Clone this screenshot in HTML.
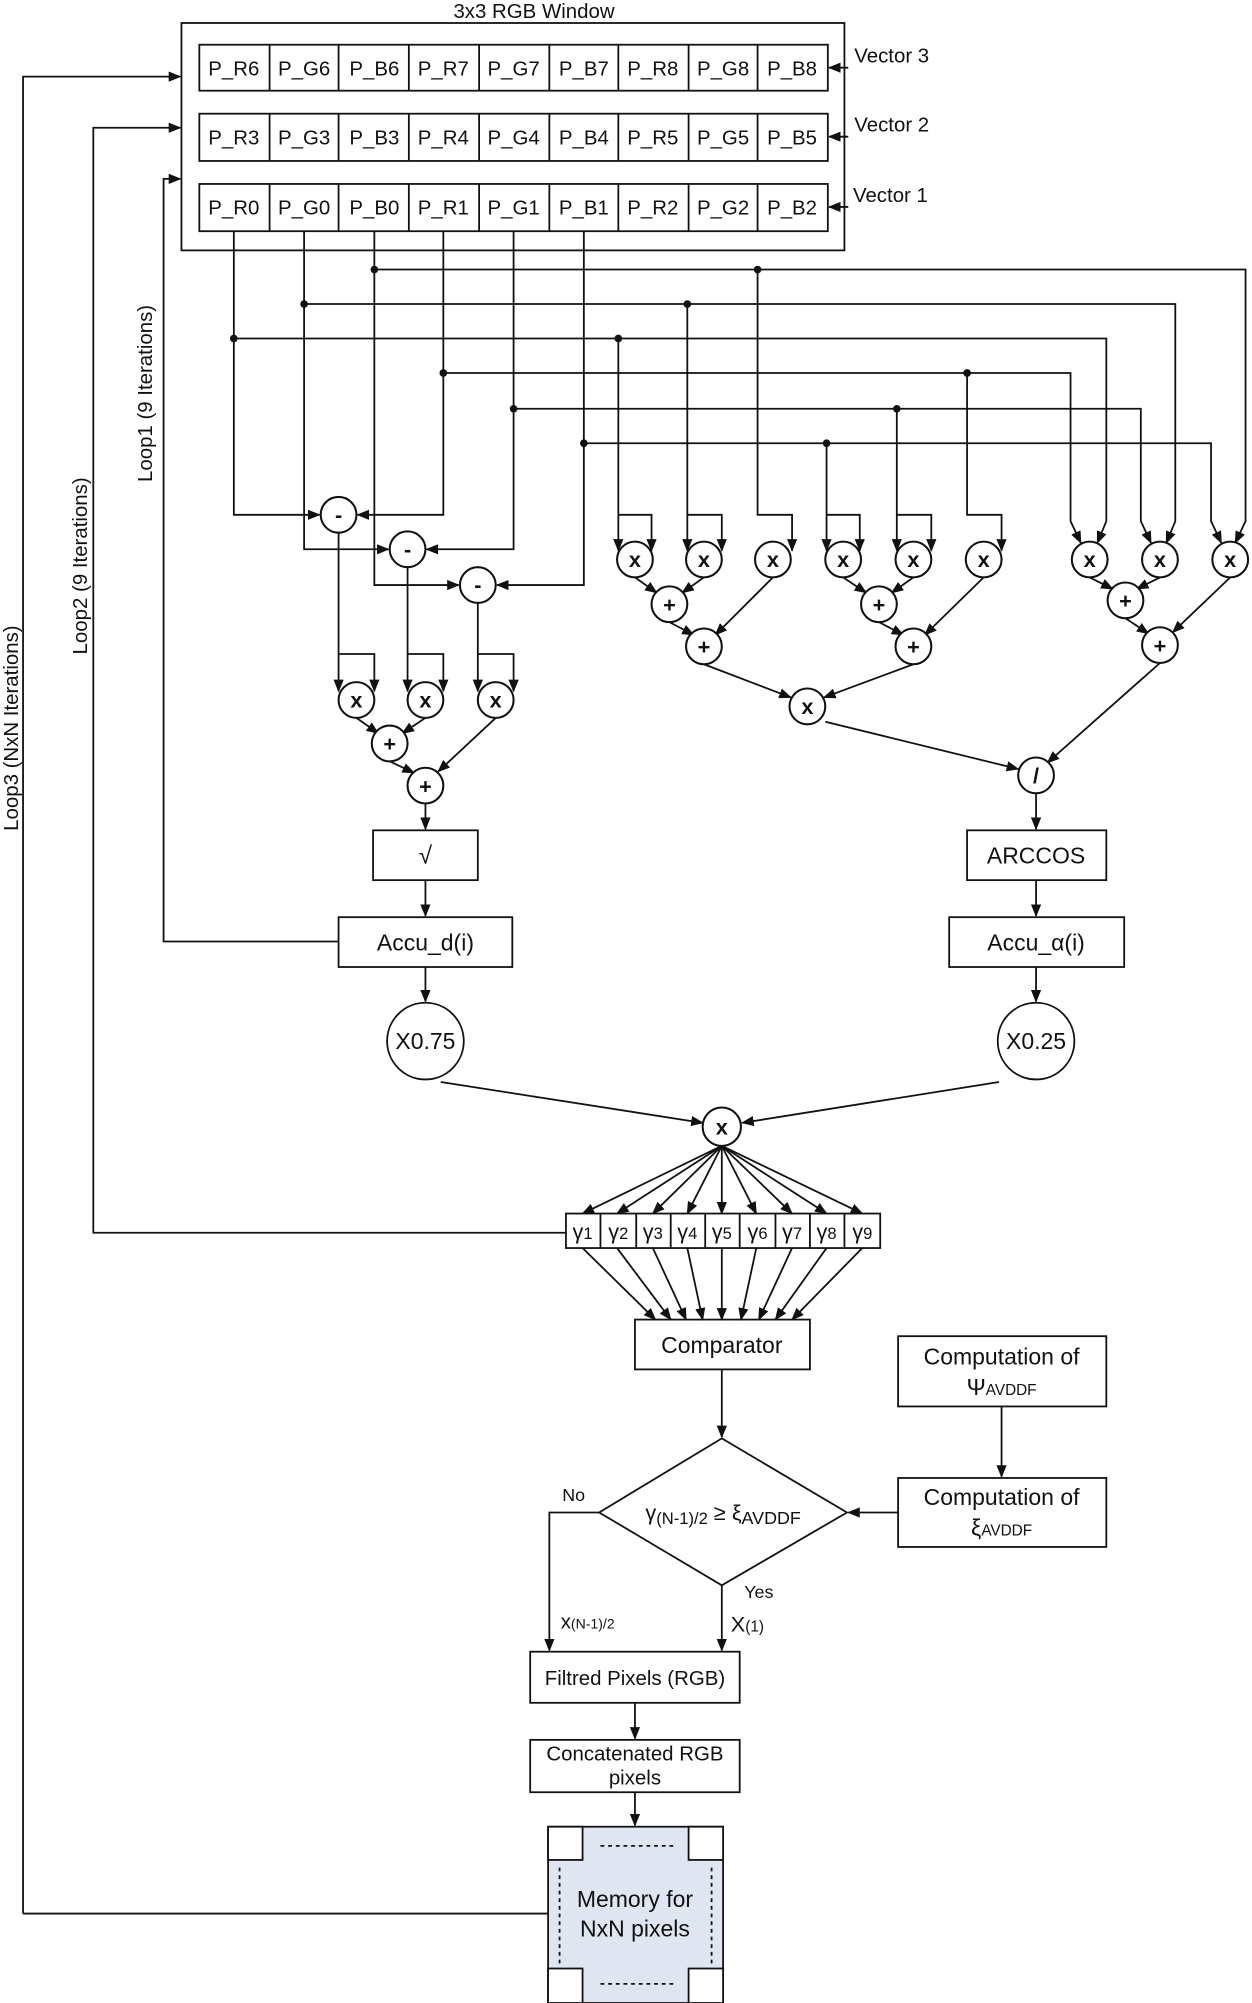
<!DOCTYPE html>
<html><head><meta charset="utf-8"><style>html,body{margin:0;padding:0;background:#fff}svg{display:block}text{font-family:"Liberation Sans",sans-serif;fill:#111}</style></head><body>
<svg width="1252" height="2003" viewBox="0 0 980 1568" xmlns="http://www.w3.org/2000/svg">
<defs><marker id="a" markerWidth="10" markerHeight="8" refX="9" refY="4" orient="auto" markerUnits="userSpaceOnUse"><path d="M0,0L10,4L0,8z" fill="#111"/></marker></defs>
<g stroke="#111" stroke-width="1.4" fill="none">
<rect x="142" y="18" width="519" height="178"/>
<rect x="156" y="35" width="492" height="36"/><rect x="156" y="89" width="492" height="37"/><rect x="156" y="144" width="492" height="37"/>
<path d="M211,35V71M265,35V71M320,35V71M375,35V71M430,35V71M484,35V71M539,35V71M593,35V71M211,89V126M265,89V126M320,89V126M375,89V126M430,89V126M484,89V126M539,89V126M593,89V126M211,144V181M265,144V181M320,144V181M375,144V181M430,144V181M484,144V181M539,144V181M593,144V181"/>
</g>
<g stroke="#111" stroke-width="1.4" fill="none" marker-end="url(#a)">
<path d="M664,53H649"/><path d="M664,107H649"/><path d="M664,162H649"/>
<path d="M18,1498V60H141"/>
<path d="M443,965H73V100H141"/>
<path d="M265,737H128V140H141"/>
<!-- minus inputs -->
<path d="M183,181V403H250"/><path d="M347,181V403H280"/>
<path d="M238,181V430H304"/><path d="M402,181V430H334"/>
<path d="M293,181V458H359"/><path d="M457,181V458H389"/>
<!-- middle mult inputs -->
<path d="M484,265V431"/><path d="M484,403H510V431"/>
<path d="M538,238V431"/><path d="M538,403H565V431"/>
<path d="M593,211V403H620V431"/>
<path d="M647,347V431"/><path d="M647,403H673V431"/>
<path d="M702,320V431"/><path d="M702,403H729V431"/>
<path d="M757,292V403H784V431"/>
<!-- right mult inputs -->
<path d="M293,211H975V408L967,425"/>
<path d="M238,238H920V408L913,425"/>
<path d="M183,265H866V408L859,425"/>
<path d="M347,292H838V408L846,425"/>
<path d="M402,320H893V408L901,425"/>
<path d="M457,347H948V408L956,425"/>
<!-- minus to mult -->
<path d="M265,417V541"/><path d="M265,512H293V541"/>
<path d="M319,444V541"/><path d="M319,512H347V541"/>
<path d="M374,472V541"/><path d="M374,512H402V541"/>
<path d="M279,562L296,574"/><path d="M333,562L315,574"/>
<path d="M305,596L324,605"/><path d="M388,562L343,604"/>
<path d="M333,629V649"/><path d="M333,689V717"/><path d="M333,757V784"/>
<!-- middle adders -->
<path d="M497,452L514,464"/><path d="M551,452L534,464"/>
<path d="M524,487L543,497"/><path d="M605,452L560,497"/>
<path d="M660,452L678,464"/><path d="M715,452L698,464"/>
<path d="M688,487L707,497"/><path d="M770,452L724,497"/>
<path d="M853,452L871,461"/><path d="M908,452L890,461"/>
<path d="M881,484L899,496"/><path d="M963,452L918,495"/>
<path d="M551,520L619,546"/><path d="M715,520L645,546"/>
<path d="M646,565L797,602"/><path d="M908,519L820,597"/>
<path d="M811,621V649"/><path d="M811,689V717"/><path d="M811,757V784"/>
<path d="M345,847L550,879"/><path d="M782,847L581,879"/>
<!-- fan to gammas -->
<path d="M565,897L456,950"/><path d="M565,897L483,950"/><path d="M565,897L511,950"/><path d="M565,897L538,950"/><path d="M565,897V950"/><path d="M565,897L592,950"/><path d="M565,897L620,950"/><path d="M565,897L647,950"/><path d="M565,897L675,950"/>
<path d="M456,977L513,1033"/><path d="M483,977L525,1033"/><path d="M511,977L537,1033"/><path d="M538,977L550,1033"/><path d="M565,977V1033"/><path d="M592,977L580,1033"/><path d="M620,977L594,1033"/><path d="M647,977L607,1033"/><path d="M675,977L620,1033"/>
<path d="M565,1072V1125"/><path d="M784,1101V1156"/><path d="M703,1184H664"/>
<path d="M469,1184H430V1292"/><path d="M565,1241V1292"/>
<path d="M497,1333V1361"/><path d="M497,1403V1429"/>
</g>
<g stroke="#111" stroke-width="1.4" fill="none">
<rect x="443" y="950" width="246" height="27" fill="#fff"/>
<path d="M470,950V977M498,950V977M525,950V977M552,950V977M579,950V977M607,950V977M634,950V977M661,950V977"/>
<rect x="497" y="1033" width="137" height="39"/>
<path d="M565,1126L663,1184L565,1241L469,1184z"/>
<rect x="703" y="1046" width="163" height="55"/><rect x="703" y="1157" width="163" height="54"/>
<rect x="415" y="1293" width="164" height="40"/><rect x="415" y="1362" width="164" height="41"/>
<rect x="429" y="1430" width="137" height="138" fill="#dfe6f1"/>
<rect x="429" y="1430" width="27" height="26" fill="#fff"/><rect x="539" y="1430" width="27" height="26" fill="#fff"/>
<rect x="429" y="1541" width="27" height="27" fill="#fff"/><rect x="539" y="1541" width="27" height="27" fill="#fff"/>
<path d="M470,1445H527M470,1553H527M438,1462V1537M557,1462V1537" stroke-dasharray="3,3"/>
<path d="M429,1498H18"/>
<rect x="292" y="650" width="82" height="39"/><rect x="265" y="718" width="136" height="39"/>
<rect x="757" y="650" width="109" height="39"/><rect x="743" y="718" width="137" height="39"/>
<circle cx="333" cy="815" r="30"/><circle cx="811" cy="815" r="30"/>
</g>
<g stroke="#111" stroke-width="1.6" fill="#fff">
<circle cx="265" cy="403" r="14"/><circle cx="319" cy="430" r="14"/><circle cx="374" cy="458" r="14"/>
<circle cx="279" cy="548" r="14"/><circle cx="333" cy="548" r="14"/><circle cx="388" cy="548" r="14"/>
<circle cx="305" cy="582" r="14"/><circle cx="333" cy="615" r="14"/>
<circle cx="497" cy="438" r="14"/><circle cx="551" cy="438" r="14"/><circle cx="605" cy="438" r="14"/>
<circle cx="660" cy="438" r="14"/><circle cx="715" cy="438" r="14"/><circle cx="770" cy="438" r="14"/>
<circle cx="853" cy="438" r="14"/><circle cx="908" cy="438" r="14"/><circle cx="963" cy="438" r="14"/>
<circle cx="524" cy="473" r="14"/><circle cx="551" cy="506" r="14"/><circle cx="688" cy="473" r="14"/><circle cx="715" cy="506" r="14"/>
<circle cx="881" cy="470" r="14"/><circle cx="908" cy="505" r="14"/><circle cx="632" cy="553" r="14"/><circle cx="811" cy="607" r="14"/>
<circle cx="565" cy="882" r="15"/>
</g>
<g fill="#111">
<circle cx="293" cy="211" r="3"/><circle cx="593" cy="211" r="3"/><circle cx="238" cy="238" r="3"/><circle cx="538" cy="238" r="3"/>
<circle cx="183" cy="265" r="3"/><circle cx="484" cy="265" r="3"/><circle cx="347" cy="292" r="3"/><circle cx="757" cy="292" r="3"/>
<circle cx="402" cy="320" r="3"/><circle cx="702" cy="320" r="3"/><circle cx="457" cy="347" r="3"/><circle cx="647" cy="347" r="3"/>
</g>
<g font-size="16" text-anchor="middle">
<text x="418" y="14">3x3 RGB Window</text>
<g font-size="16">
<text x="183" y="59">P_R6</text><text x="238" y="59">P_G6</text><text x="293" y="59">P_B6</text><text x="347" y="59">P_R7</text><text x="402" y="59">P_G7</text><text x="457" y="59">P_B7</text><text x="511" y="59">P_R8</text><text x="566" y="59">P_G8</text><text x="620" y="59">P_B8</text>
<text x="183" y="113">P_R3</text><text x="238" y="113">P_G3</text><text x="293" y="113">P_B3</text><text x="347" y="113">P_R4</text><text x="402" y="113">P_G4</text><text x="457" y="113">P_B4</text><text x="511" y="113">P_R5</text><text x="566" y="113">P_G5</text><text x="620" y="113">P_B5</text>
<text x="183" y="168">P_R0</text><text x="238" y="168">P_G0</text><text x="293" y="168">P_B0</text><text x="347" y="168">P_R1</text><text x="402" y="168">P_G1</text><text x="457" y="168">P_B1</text><text x="511" y="168">P_R2</text><text x="566" y="168">P_G2</text><text x="620" y="168">P_B2</text>
</g>
<text x="698" y="49">Vector 3</text><text x="698" y="103">Vector 2</text><text x="697" y="158">Vector 1</text>
<text transform="translate(14,570) rotate(-90)">Loop3 (NxN Iterations)</text>
<text transform="translate(68,443) rotate(-90)">Loop2 (9 Iterations)</text>
<text transform="translate(119,308) rotate(-90)">Loop1 (9 Iterations)</text>
<g font-weight="bold" font-size="17">
<text x="265" y="409">-</text><text x="319" y="436">-</text><text x="374" y="464">-</text>
<text x="279" y="554">x</text><text x="333" y="554">x</text><text x="388" y="554">x</text>
<text x="305" y="588">+</text><text x="333" y="621">+</text>
<text x="497" y="444">x</text><text x="551" y="444">x</text><text x="605" y="444">x</text><text x="660" y="444">x</text><text x="715" y="444">x</text><text x="770" y="444">x</text>
<text x="853" y="444">x</text><text x="908" y="444">x</text><text x="963" y="444">x</text>
<text x="524" y="479">+</text><text x="551" y="512">+</text><text x="688" y="479">+</text><text x="715" y="512">+</text><text x="881" y="476">+</text><text x="908" y="511">+</text>
<text x="632" y="559">x</text><text x="811" y="613">/</text><text x="565" y="888">x</text>
</g>
<text x="333" y="676" font-size="19">√</text>
<text x="333" y="744" font-size="18">Accu_d(i)</text>
<text x="811" y="676" font-size="18">ARCCOS</text>
<text x="811" y="744" font-size="18">Accu_α(i)</text>
<text x="333" y="821" font-size="18">X0.75</text><text x="811" y="821" font-size="18">X0.25</text>
<g font-family="Liberation Serif" font-size="17">
<text x="456" y="970">γ<tspan font-size="13">1</tspan></text><text x="484" y="970">γ<tspan font-size="13">2</tspan></text><text x="511" y="970">γ<tspan font-size="13">3</tspan></text><text x="538" y="970">γ<tspan font-size="13">4</tspan></text><text x="565" y="970">γ<tspan font-size="13">5</tspan></text><text x="593" y="970">γ<tspan font-size="13">6</tspan></text><text x="620" y="970">γ<tspan font-size="13">7</tspan></text><text x="647" y="970">γ<tspan font-size="13">8</tspan></text><text x="675" y="970">γ<tspan font-size="13">9</tspan></text>
</g>
<text x="565" y="1059" font-size="18">Comparator</text>
<text x="784" y="1068" font-size="18">Computation of</text>
<text x="784" y="1092" font-size="18">Ψ<tspan font-size="12">AVDDF</tspan></text>
<text x="784" y="1178" font-size="18">Computation of</text>
<text x="784" y="1202" font-size="18">ξ<tspan font-size="12">AVDDF</tspan></text>
<text x="566" y="1190" font-size="17">γ<tspan font-size="13" dy="3">(N-1)/2</tspan><tspan dy="-3"> ≥ ξ</tspan><tspan font-size="14" dy="3">AVDDF</tspan></text>
<text x="449" y="1175" font-size="14">No</text><text x="594" y="1251" font-size="14">Yes</text>
<text x="460" y="1275" font-size="16">x<tspan font-size="11">(N-1)/2</tspan></text>
<text x="585" y="1277" font-size="17">X<tspan font-size="12">(1)</tspan></text>
<text x="497" y="1319" font-size="16">Filtred Pixels (RGB)</text>
<text x="497" y="1378" font-size="16">Concatenated RGB</text><text x="497" y="1397" font-size="16">pixels</text>
<text x="497" y="1493" font-size="18">Memory for</text><text x="497" y="1516" font-size="18">NxN pixels</text>
</g>
</svg>
</body></html>
